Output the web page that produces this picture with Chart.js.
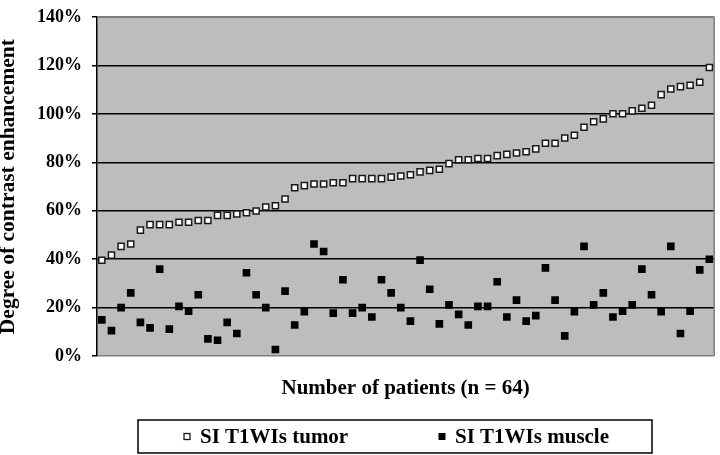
<!DOCTYPE html>
<html>
<head>
<meta charset="utf-8">
<script src="https://cdn.jsdelivr.net/npm/chart.js@4.4.0/dist/chart.umd.min.js"></script>
<style>
    body { margin: 0; background: #ffffff; }
    canvas { display: block; }
</style>
</head>
<body>
<canvas id="enhancementChart" width="720" height="455"></canvas>
<script>
const patients = Array.from({ length: 64 }, (_, i) => String(i + 1));

const tumorValues = [
    39.6, 41.7, 45.3, 46.3, 52.0, 54.3, 54.3, 54.3, 55.3, 55.3,
    56.0, 56.0, 58.1, 58.1, 58.7, 59.2, 59.9, 61.6, 62.1, 64.9,
    69.5, 70.4, 71.1, 71.1, 71.6, 71.6, 73.3, 73.3, 73.3, 73.3,
    73.9, 74.4, 74.9, 76.1, 76.7, 77.2, 79.5, 81.1, 81.1, 81.6,
    81.6, 82.8, 83.3, 83.9, 84.4, 85.6, 87.9, 87.9, 90.1, 91.2,
    94.5, 96.8, 98.0, 100.1, 100.1, 101.3, 102.4, 103.6, 108.0, 110.3,
    111.3, 111.9, 113.1, 119.2,
];

const muscleValues = [
    14.9, 10.5, 20.0, 26.1, 13.9, 11.6, 35.9, 11.1, 20.5, 18.5,
    25.3, 7.1, 6.5, 13.9, 9.3, 34.4, 25.3, 20.0, 2.7, 26.8,
    12.8, 18.3, 46.3, 43.2, 17.7, 31.5, 17.7, 20.0, 16.1, 31.5,
    26.1, 20.0, 14.4, 39.6, 27.6, 13.3, 21.1, 17.2, 12.8, 20.5,
    20.5, 30.7, 16.1, 23.1, 14.4, 16.7, 36.4, 23.1, 8.3, 18.3,
    45.3, 21.1, 26.1, 16.1, 18.5, 21.1, 35.9, 25.3, 18.3, 45.3,
    9.3, 18.5, 35.6, 40.0,
];

const yTickLabels = ['0%', '20%', '40%', '60%', '80%', '100%', '120%', '140%'];

const serif = 'Liberation Serif';
const plotGray = '#bdbdbd';
const borderGray = '#7f7f7f';

// gray plot background + gray frame, like the old Excel look
const plotFrame = {
    id: 'plotFrame',
    beforeDraw(chart) {
        const { ctx, chartArea: a } = chart;
        ctx.save();
        ctx.fillStyle = plotGray;
        ctx.fillRect(a.left, a.top, a.right - a.left, a.bottom - a.top);
        ctx.restore();
    },
    afterDatasetsDraw(chart) {
        const { ctx, chartArea: a } = chart;
        ctx.save();
        ctx.strokeStyle = borderGray;
        ctx.lineWidth = 1.5;
        ctx.beginPath();
        ctx.moveTo(a.left, a.top);
        ctx.lineTo(a.right, a.top);
        ctx.lineTo(a.right, a.bottom);
        ctx.stroke();
        ctx.restore();
    },
};

// boxed legend under the axis title
const boxedLegend = {
    id: 'boxedLegend',
    afterDraw(chart) {
        const { ctx } = chart;
        const box = { left: 138, top: 420, right: 652, bottom: 453 };
        const markerX = [187, 442];
        const markerSize = [6, 7];
        const midY = (box.top + box.bottom) / 2;

        ctx.save();
        ctx.fillStyle = '#ffffff';
        ctx.fillRect(box.left, box.top, box.right - box.left, box.bottom - box.top);
        ctx.strokeStyle = '#000000';
        ctx.lineWidth = 1.5;
        ctx.strokeRect(box.left, box.top, box.right - box.left, box.bottom - box.top);

        ctx.font = `bold 21px "${serif}"`;
        ctx.textBaseline = 'middle';
        ctx.textAlign = 'left';

        chart.data.datasets.forEach((ds, i) => {
            const x = markerX[i];
            const s = markerSize[i];
            ctx.fillStyle = ds.backgroundColor;
            ctx.fillRect(x - s / 2, midY - s / 2, s, s);
            if (ds.borderWidth) {
                ctx.strokeStyle = ds.borderColor;
                ctx.lineWidth = 1.3;
                ctx.strokeRect(x - s / 2, midY - s / 2, s, s);
            }
            ctx.fillStyle = '#000000';
            ctx.fillText(ds.label, x + 13, midY + 1);
        });
        ctx.restore();
    },
};

new Chart(document.getElementById('enhancementChart'), {
    type: 'line',
    data: {
        labels: patients,
        datasets: [
            {
                label: 'SI T1WIs tumor',
                data: tumorValues,
                showLine: false,
                pointStyle: 'rect',
                pointRadius: 4.3,
                backgroundColor: '#ffffff',
                borderColor: '#1a1a1a',
                borderWidth: 1.5,
            },
            {
                label: 'SI T1WIs muscle',
                data: muscleValues,
                showLine: false,
                pointStyle: 'rect',
                pointRadius: 5.4,
                backgroundColor: '#000000',
                borderColor: '#000000',
                borderWidth: 0,
            },
        ],
    },
    options: {
        responsive: false,
        animation: false,
        layout: {
            padding: { top: 7, right: 2, bottom: 56, left: 0 },
        },
        plugins: {
            legend: { display: false },
            tooltip: { enabled: false },
        },
        scales: {
            x: {
                offset: true,
                ticks: { display: false },
                grid: { display: false },
                border: { display: false },
                title: {
                    display: true,
                    text: 'Number of patients (n = 64)',
                    color: '#000000',
                    font: { family: serif, size: 21, weight: 'bold', lineHeight: 1 },
                    padding: 0,
                },
                afterFit(scale) {
                    scale.height = 43;
                },
            },
            y: {
                min: 0,
                max: 140,
                ticks: {
                    stepSize: 20,
                    color: '#000000',
                    padding: 10,
                    font: { family: serif, size: 18, weight: 'bold', lineHeight: 0.8 },
                    callback: (value) => yTickLabels[value / 20],
                },
                grid: {
                    color: (c) => (c.tick && (c.tick.value === 0 || c.tick.value === 140) ? borderGray : '#000000'),
                    lineWidth: 1.5,
                    tickColor: '#000000',
                    tickLength: 5,
                },
                border: { display: true, color: '#000000', width: 1.5 },
                title: {
                    display: true,
                    text: 'Degree of contrast enhancement',
                    color: '#000000',
                    font: { family: serif, size: 21.5, weight: 'bold', lineHeight: 0.8 },
                    padding: 0,
                },
                afterFit(scale) {
                    scale.width = 97;
                },
            },
        },
    },
    plugins: [plotFrame, boxedLegend],
});
</script>
</body>
</html>
